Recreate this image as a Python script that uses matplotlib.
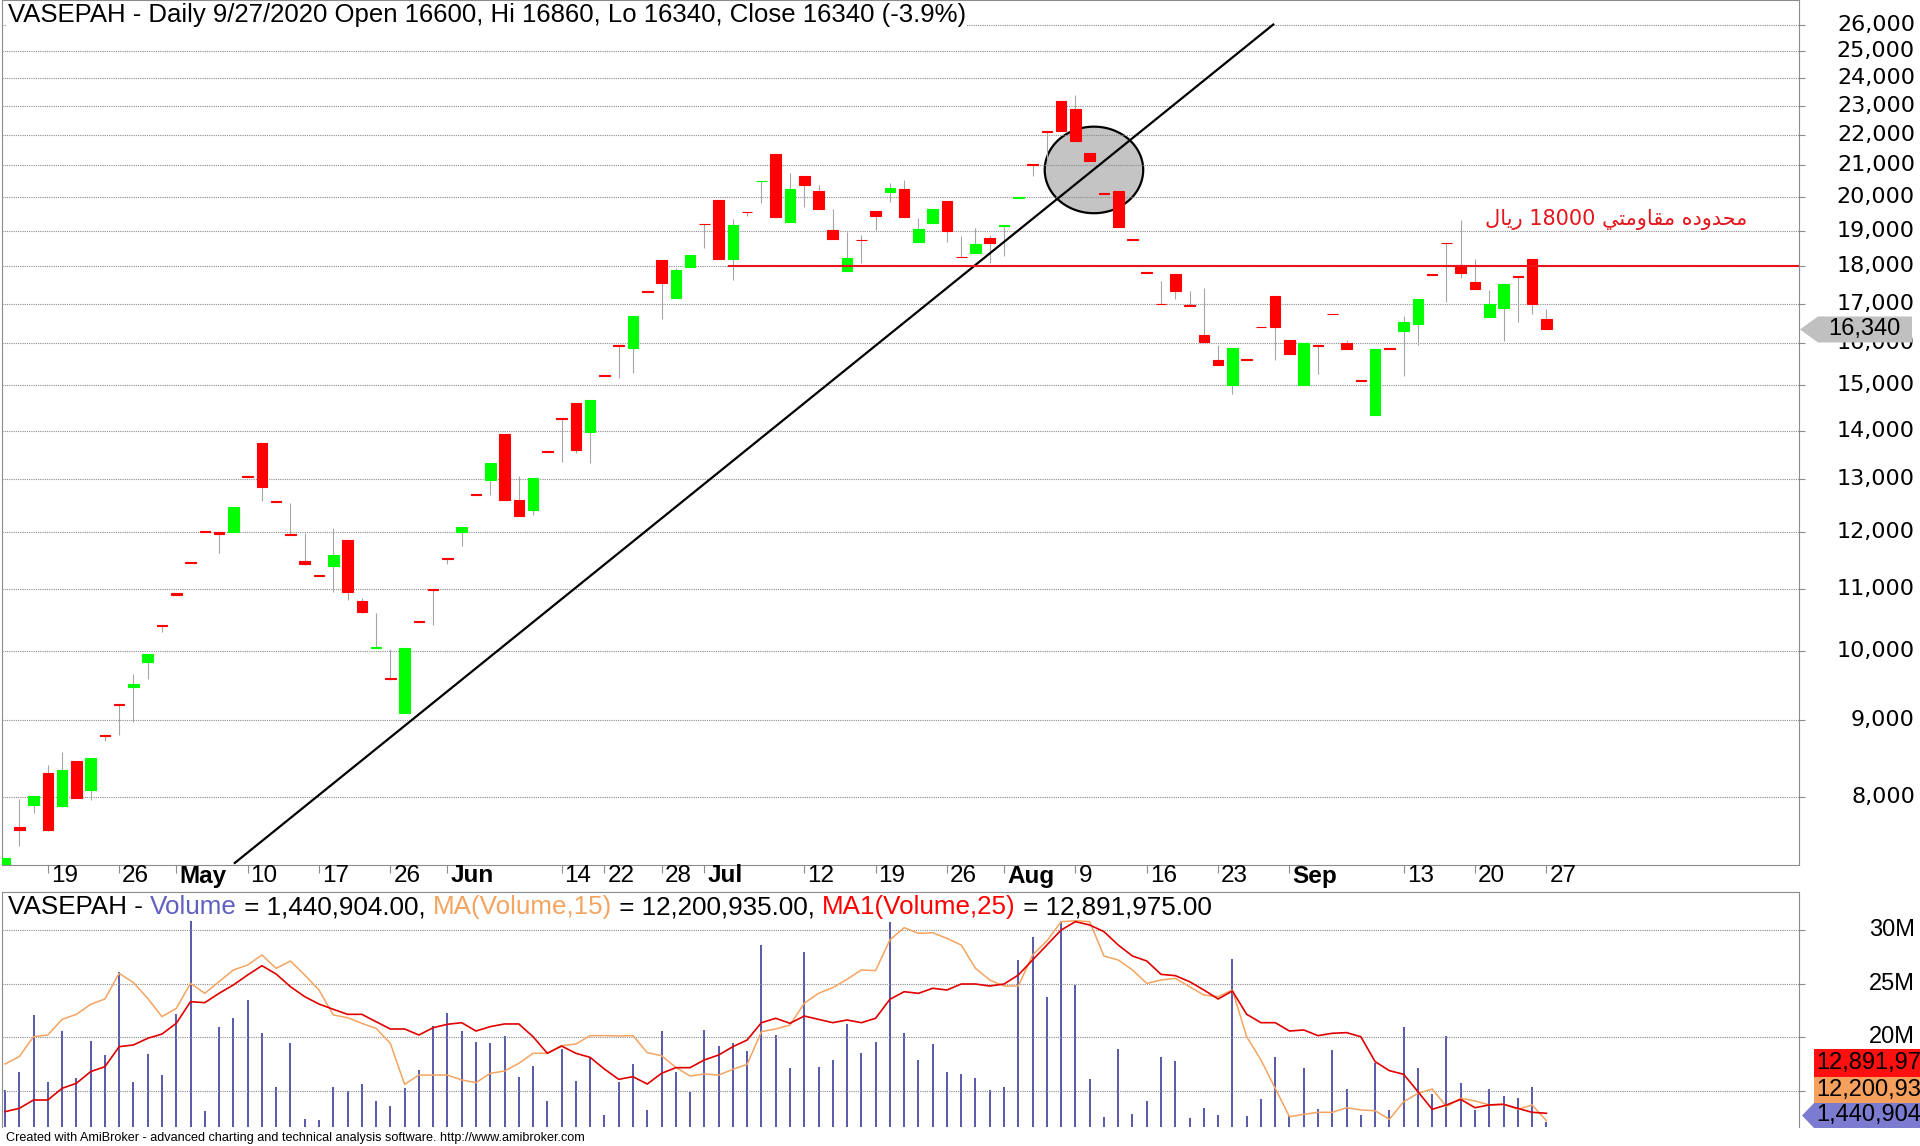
import numpy as np
import matplotlib.pyplot as plt
import matplotlib.transforms as mtransforms
from matplotlib.patches import Polygon, Rectangle
from matplotlib.ticker import FixedLocator, NullLocator

# --- data (bar index 0..108) ---
open_ = [7180, 7640, 7900, 8300, 7890, 8450, 8090, 8800, 9220, 9470,
         9830, 10400, 10920, 11460, 12010, 12000, 11990, 13070, 13730, 12580,
         11950, 11480, 11230, 11380, 11840, 10785, 10040, 9600, 9090, 10470,
         11000, 11520, 11990, 12700, 12990, 13920, 12600, 12400, 13580, 14270,
         14600, 13970, 15240, 15950, 15875, 17330, 18180, 17140, 17975, 19210,
         19910, 18190, 19560, 20490, 21370, 19260, 20670, 20200, 19010, 17880,
         18740, 19570, 20170, 20250, 18685, 19240, 19890, 18260, 18360, 18790,
         19150, 19980, 21040, 22120, 23180, 22890, 21400, 20140, 20200, 18760,
         17840, 17000, 17780, 16950, 16210, 15600, 15000, 15620, 16410, 17200,
         16090, 15000, 15950, 16740, 16000, 15120, 14340, 15890, 16300, 16490,
         17790, 18660, 18030, 17560, 16650, 16880, 17720, 18190, 16600]
high = [7285, 7980, 8010, 8400, 8570, 8450, 8490, 8800, 9220, 9650,
        9950, 10400, 10920, 11460, 12010, 12000, 12450, 13070, 13730, 12580,
        12540, 11980, 11230, 12070, 11840, 10840, 10595, 10030, 10040, 10470,
        11000, 11520, 12080, 12700, 13330, 13920, 13070, 13020, 13580, 14270,
        14600, 14680, 15240, 15950, 16680, 17330, 18180, 17950, 18315, 19210,
        19910, 19330, 19560, 20510, 21370, 20760, 20670, 20375, 19630, 18960,
        18870, 19570, 20450, 20530, 19360, 19640, 19890, 18840, 19090, 18880,
        19170, 20010, 21040, 22120, 23180, 23390, 21400, 20140, 20200, 18760,
        17840, 17600, 17780, 17340, 17400, 15950, 15890, 15620, 16410, 17200,
        16090, 16000, 15950, 16740, 16080, 15120, 15860, 15890, 16680, 17110,
        17790, 18660, 19300, 18210, 17350, 17510, 17720, 18190, 16860]
low = [7150, 7420, 7810, 7600, 7880, 7990, 7960, 8720, 8790, 8970,
       9580, 10300, 10900, 11440, 11990, 11610, 11990, 13040, 12570, 12560,
       11930, 11400, 11210, 10950, 10810, 10600, 10040, 9560, 9090, 10450,
       10400, 11420, 11730, 12680, 12690, 12590, 12280, 12310, 13560, 13340,
       13520, 13320, 15220, 15170, 15300, 17310, 16610, 17140, 17975, 18520,
       18190, 17620, 19440, 19810, 19410, 19260, 19690, 19630, 18750, 17880,
       18080, 19010, 19860, 19390, 18685, 19240, 18670, 18240, 18360, 18080,
       18290, 19980, 20650, 21180, 22120, 21780, 21140, 20110, 19100, 18740,
       17820, 16980, 17115, 16930, 16030, 15480, 14810, 15600, 16390, 15590,
       15740, 15000, 15270, 16720, 15870, 15100, 14340, 15870, 15210, 15960,
       17770, 17040, 17690, 17380, 16650, 16060, 16540, 16730, 16340]
close = [7285, 7610, 8010, 7610, 8340, 7990, 8490, 8780, 9200, 9500,
         9950, 10380, 10900, 11440, 11990, 11960, 12450, 13040, 12850, 12560,
         11930, 11420, 11210, 11580, 10940, 10610, 10060, 9580, 10040, 10450,
         10980, 11500, 12080, 12680, 13330, 12590, 12280, 13020, 13560, 14250,
         13590, 14680, 15220, 15930, 16680, 17310, 17550, 17900, 18315, 19190,
         18190, 19160, 19540, 20510, 19410, 20250, 20380, 19630, 18750, 18220,
         18720, 19420, 20290, 19390, 19050, 19640, 18990, 18240, 18610, 18660,
         19170, 20010, 21020, 22100, 22120, 21780, 21140, 20110, 19100, 18740,
         17820, 16980, 17340, 16930, 16030, 15480, 15890, 15600, 16390, 16400,
         15740, 16000, 15930, 16720, 15870, 15100, 15860, 15870, 16540, 17110,
         17770, 18640, 17820, 17380, 17000, 17510, 17700, 17000, 16340]

# volume and its moving averages, millions of shares
volume = [10.93, 16.40, 33.50, 13.52, 28.53, 14.51, 25.74, 21.37, 46.22, 13.32,
          21.77, 15.41, 33.80, 61.43, 4.67, 29.82, 32.50, 37.77, 28.13, 11.83,
          25.15, 2.29, 1.99, 11.83, 10.64, 12.92, 7.85, 6.26, 11.63, 16.90,
          30.12, 34.00, 28.63, 25.35, 25.15, 27.24, 14.81, 18.09, 7.85, 23.16,
          13.82, 20.58, 3.48, 13.32, 18.89, 5.17, 28.63, 16.30, 10.34, 28.93,
          24.15, 25.15, 22.66, 54.17, 27.43, 17.59, 51.99, 17.89, 20.08, 30.81,
          21.97, 25.45, 60.93, 28.13, 20.08, 24.85, 16.50, 15.90, 14.71, 10.93,
          11.83, 49.70, 56.46, 38.87, 61.43, 42.15, 14.31, 2.98, 23.16, 3.78,
          7.65, 20.87, 19.78, 2.68, 5.57, 3.48, 50.00, 3.18, 8.35, 20.87,
          3.18, 17.59, 5.27, 22.86, 11.33, 3.48, 19.08, 4.97, 29.82, 17.59,
          9.94, 27.04, 13.02, 4.97, 11.43, 9.14, 8.55, 11.83, 1.440904]
ma15 = [17.49, 18.18, 20.04, 20.20, 21.66, 22.13, 23.06, 23.56, 25.96, 25.09,
        23.62, 21.91, 22.69, 25.02, 24.09, 25.18, 26.27, 26.73, 27.67, 26.42,
        27.11, 25.80, 24.40, 22.07, 21.82, 21.29, 20.82, 19.42, 15.59, 16.46,
        16.46, 16.46, 16.00, 15.75, 16.62, 16.84, 17.55, 18.49, 18.49, 19.20,
        19.36, 20.14, 20.14, 20.11, 20.14, 18.55, 18.27, 17.18, 16.37, 16.56,
        16.46, 16.99, 17.46, 20.51, 20.76, 21.13, 23.16, 24.09, 24.62, 25.40,
        26.27, 26.21, 29.07, 30.22, 29.69, 29.75, 29.22, 28.60, 26.42, 25.33,
        24.77, 24.77, 27.67, 28.98, 30.78, 30.87, 30.78, 27.57, 27.20, 26.27,
        25.02, 25.33, 25.49, 24.71, 23.93, 23.78, 24.40, 20.04, 17.87, 15.22,
        12.57, 12.79, 12.98, 12.98, 13.41, 13.20, 13.13, 12.33, 13.97, 14.75,
        15.16, 13.51, 14.29, 14.04, 13.67, 13.73, 13.26, 13.67, 12.200935]
ma25 = [13.04, 13.35, 14.13, 14.13, 15.22, 15.69, 16.78, 17.24, 19.11, 19.27,
        19.89, 20.29, 21.29, 23.31, 23.22, 24.09, 24.87, 25.80, 26.67, 25.89,
        24.71, 23.78, 23.09, 22.60, 22.13, 22.13, 21.44, 20.76, 20.76, 20.20,
        20.88, 21.20, 21.35, 20.57, 20.98, 21.23, 21.23, 20.04, 18.49, 19.17,
        18.49, 18.11, 17.02, 16.06, 16.31, 15.62, 16.62, 17.15, 17.15, 17.87,
        18.33, 19.11, 19.73, 21.35, 21.76, 21.29, 21.97, 21.66, 21.35, 21.60,
        21.35, 21.76, 23.53, 24.24, 24.09, 24.56, 24.40, 24.96, 24.96, 24.77,
        24.96, 25.80, 27.20, 28.60, 30.00, 30.78, 30.47, 29.85, 28.60, 27.57,
        27.11, 25.86, 25.74, 25.18, 24.40, 23.56, 24.31, 22.13, 21.35, 21.35,
        20.57, 20.67, 20.14, 20.36, 20.42, 20.04, 17.71, 16.87, 16.53, 14.91,
        13.26, 13.67, 14.19, 13.41, 13.67, 13.73, 13.35, 12.98, 12.891975]

date_pos = [3, 8, 12, 17, 22, 27, 31, 39, 42, 46, 49, 56, 61, 66, 70, 75, 80, 85, 90, 98, 103, 108]
date_lab = ['19', '26', 'May', '10', '17', '26', 'Jun', '14', '22', '28', 'Jul',
            '12', '19', '26', 'Aug', '9', '16', '23', 'Sep', '13', '20', '27']
price_ticks = list(range(8000, 27000, 1000))
vol_ticks = [15, 20, 25, 30]
vol_tick_lab = ['', '20M', '25M', '30M']

# drawn annotations (bar index, price)
trend = ([16.1, 88.86], [7233, 26035])
resist_level = 18000
resist_start = 50.7
circle_x, circle_p = 76.3, 20850
circle_rx, circle_ry = 3.45, 0.0661
# "محدوده مقاومتي 18000 ريال" in presentation forms, visual order
note = ('\uFEDD\uFE8E\uFEF3\uFEAD 18000 '
        '\uFEF2\uFE98\uFEE3\uFEED\uFE8E\uFED8\uFEE3 '
        '\uFEE9\uFEA9\uFEED\uFEAA\uFEA4\uFEE3')

plt.rcParams['font.family'] = ['Liberation Sans', 'DejaVu Sans']

W, H = 1920, 1146
fig = plt.figure(figsize=(W / 100, H / 100), dpi=100)

def fx(px):
    return px / W

def fy(py):
    return 1 - py / H

GRAY = '#8c8c8c'
x = np.arange(len(close))
o, h, l, c = map(np.array, (open_, high, low, close))

# ---------------- price pane ----------------
ax = fig.add_axes([fx(2), fy(864.5), fx(1797), 864.5 / H])
ax.set_yscale('log')
ax.set_ylim(7216, 27030)
ax.set_xlim(-0.21, 125.7)
ax.yaxis.set_major_locator(FixedLocator(price_ticks))
ax.yaxis.set_minor_locator(NullLocator())
ax.yaxis.tick_right()
ax.tick_params(axis='y', length=4, color=GRAY, labelright=False, labelleft=False)
ax.set_xticks(date_pos)
ax.tick_params(axis='x', length=6, color=GRAY, labelbottom=False)
ax.grid(axis='y', color=GRAY, linestyle=(0, (1, 1)), linewidth=0.8)
ax.set_axisbelow(True)
for s in ax.spines.values():
    s.set_color(GRAY)

up = c >= o
col = np.where(up, '#00ff00', '#ff0000')
ax.vlines(x, l, h, color='#a6a6a6', linewidth=0.8, zorder=2)
ax.bar(x, np.abs(c - o), bottom=np.minimum(o, c), width=0.74, color=col,
       edgecolor=col, linewidth=0.8, zorder=3)

t = np.linspace(0, 2 * np.pi, 200)
ax.fill(circle_x + circle_rx * np.cos(t), circle_p * np.exp(circle_ry * np.sin(t)),
        facecolor='#c4c4c4', edgecolor='black', linewidth=1.6, zorder=0.3)
ax.plot(trend[0], trend[1], color='black', linewidth=1.6, zorder=4)
ax.plot([resist_start, 125.7], [resist_level, resist_level], color='#e8141b',
        linewidth=1.5, zorder=4)
ax.text(122.1, 19344, note, color='#e4161c', fontsize=15, ha='right', va='center',
        family=['DejaVu Sans'], zorder=5)

ytr = mtransforms.blended_transform_factory(ax.transAxes, ax.transData)
xr = (1915 - 2) / 1797
for p in price_ticks:
    ax.text(xr, p, f'{p:,}', transform=ytr, ha='right', va='center',
            fontsize=16, family='DejaVu Sans', clip_on=False)

xtr = mtransforms.blended_transform_factory(ax.transData, ax.transAxes)
off = mtransforms.ScaledTranslation(3 / 100, 0, fig.dpi_scale_trans)
for pos, lab in zip(date_pos, date_lab):
    ax.text(pos, -11.5 / 864.5, lab, transform=xtr + off, ha='left', va='center',
            fontsize=17.5, fontweight='bold' if lab.isalpha() else 'normal',
            clip_on=False)

chg = (close[-1] / close[-2] - 1) * 100
title = (f'VASEPAH - Daily 9/27/2020 Open {open_[-1]}, Hi {high[-1]}, '
         f'Lo {low[-1]}, Close {close[-1]} ({chg:.1f}%)')
fig.text(fx(8), fy(15), title, fontsize=18.5, ha='left', va='center',
         bbox=dict(facecolor='white', edgecolor='none', pad=1))

# last price marker
fig.canvas.draw()
yl = ax.transData.transform((0, close[-1]))[1] / H
hh = 13 / H
fig.patches.append(Polygon([(fx(1800), yl), (fx(1818), yl + hh), (fx(1912), yl + hh),
                            (fx(1912), yl - hh), (fx(1818), yl - hh)],
                           closed=True, transform=fig.transFigure,
                           facecolor='#c0c0c0', edgecolor='none'))
fig.text(fx(1864), yl, f'{close[-1]:,}', fontsize=17, ha='center', va='center')

# ---------------- volume pane ----------------
axv = fig.add_axes([fx(2), fy(1127), fx(1797), (1127 - 892) / H])
axb = axv.twinx()
axb.set_zorder(axv.get_zorder() - 1)
axv.patch.set_visible(False)
axb.set_ylim(0, 70)
axb.vlines(x, 0, volume, color='#3c3ca0', linewidth=1.2)
axb.set_yticks([])
for s in axb.spines.values():
    s.set_visible(False)

axv.set_xlim(-0.21, 125.7)
axv.set_ylim(11.61, 33.55)
axv.plot(x, ma15, color='#f4a460', linewidth=1.1)
axv.plot(x, ma25, color='#e00000', linewidth=1.2)
axv.set_xticks([])
axv.yaxis.tick_right()
axv.set_yticks(vol_ticks)
axv.tick_params(axis='y', length=4, color=GRAY, labelright=False)
axv.grid(axis='y', color=GRAY, linestyle=(0, (1, 1)), linewidth=0.8)
for s in axv.spines.values():
    s.set_color(GRAY)
axv.spines['bottom'].set_visible(False)

vtr = mtransforms.blended_transform_factory(axv.transAxes, axv.transData)
for v, lab in zip(vol_ticks, vol_tick_lab):
    axv.text(xr, v, lab, transform=vtr, ha='right', va='center', fontsize=17,
             clip_on=False)

# colored legend line
parts = [('VASEPAH - ', 'black'), ('Volume', '#6060c0'),
         (f' = {volume[-1] * 1e6:,.2f}, ', 'black'), ('MA(Volume,15)', '#f4a460'),
         (f' = {ma15[-1] * 1e6:,.2f}, ', 'black'), ('MA1(Volume,25)', '#ff0000'),
         (f' = {ma25[-1] * 1e6:,.2f}', 'black')]
r = fig.canvas.get_renderer()
px = fx(8)
for s, cl in parts:
    tx = fig.text(px, fy(907), s, color=cl, fontsize=18.7, ha='left', va='center')
    px += tx.get_window_extent(renderer=r).width / W

# value boxes at the right of the volume pane
boxes = [(ma25[-1], '#ff1010', 1049, 1077), (ma15[-1], '#f5a05c', 1077, 1103)]
for val, fc, y0, y1 in boxes:
    fig.patches.append(Rectangle((fx(1814), fy(y1)), fx(1920 - 1814), (y1 - y0) / H,
                                 transform=fig.transFigure, facecolor=fc, edgecolor='none'))
    fig.text(fx(1816), fy((y0 + y1) / 2), f'{val * 1e6:,.0f}', fontsize=17,
             ha='left', va='center')
yb = fy(1115.5)
hb = 12.5 / H
fig.patches.append(Polygon([(fx(1802), yb), (fx(1814), yb + hb), (1, yb + hb),
                            (1, yb - hb), (fx(1814), yb - hb)], closed=True,
                           transform=fig.transFigure, facecolor='#7b7bd0', edgecolor='none'))
fig.text(fx(1816), yb, f'{volume[-1] * 1e6:,.0f}', fontsize=17, ha='left', va='center')

fig.text(fx(6), fy(1138), 'Created with AmiBroker - advanced charting and technical '
         'analysis software. http://www.amibroker.com', fontsize=9.1, ha='left', va='center')

fig.savefig('out.png', dpi=100)
